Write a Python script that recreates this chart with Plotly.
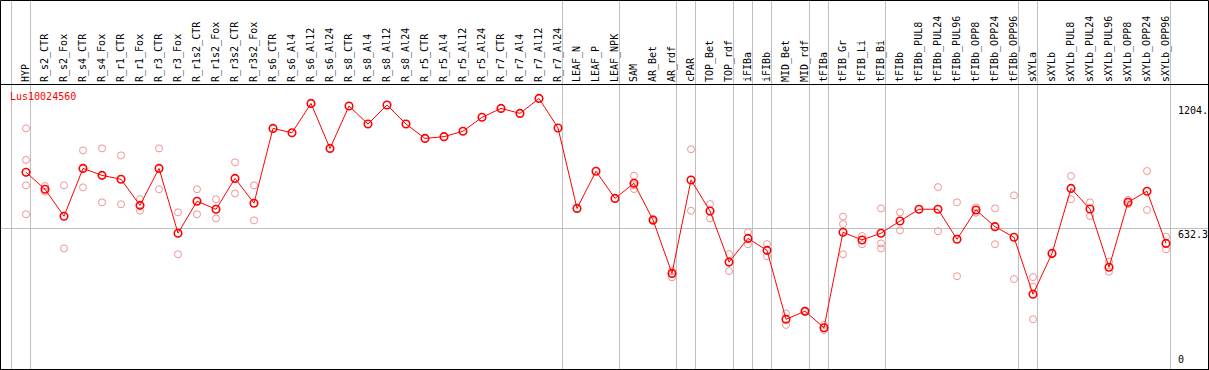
import plotly.graph_objects as go

title = "Lus10024560"

categories = [
    "HYP", "R_s2_CTR", "R_s2_Fox", "R_s4_CTR", "R_s4_Fox", "R_r1_CTR", "R_r1_Fox",
    "R_r3_CTR", "R_r3_Fox", "R_r1s2_CTR", "R_r1s2_Fox", "R_r3s2_CTR", "R_r3s2_Fox",
    "R_s6_CTR", "R_s6_Al4", "R_s6_Al12", "R_s6_Al24", "R_s8_CTR", "R_s8_Al4",
    "R_s8_Al12", "R_s8_Al24", "R_r5_CTR", "R_r5_Al4", "R_r5_Al12", "R_r5_Al24",
    "R_r7_CTR", "R_r7_Al4", "R_r7_Al12", "R_r7_Al24", "LEAF_N", "LEAF_P", "LEAF_NPK",
    "SAM", "AR_Bet", "AR_rdf", "cPAR", "TOP_Bet", "TOP_rdf", "iFIBa", "iFIBb",
    "MID_Bet", "MID_rdf", "tFIBa", "tFIB_Gr", "tFIB_Li", "tFIB_Bi", "tFIBb",
    "tFIBb_PUL8", "tFIBb_PUL24", "tFIBb_PUL96", "tFIBb_OPP8", "tFIBb_OPP24",
    "tFIBb_OPP96", "sXYLa", "sXYLb", "sXYLb_PUL8", "sXYLb_PUL24", "sXYLb_PUL96",
    "sXYLb_OPP8", "sXYLb_OPP24", "sXYLb_OPP96",
]

means = [
    890, 812, 688, 908, 876, 858, 738, 908, 610, 757, 720, 862, 748,
    1092, 1072, 1207, 1000, 1195, 1112, 1200, 1112, 1046, 1054, 1079, 1143,
    1184, 1161, 1230, 1094, 724, 895, 770,
    840, 671, 425, 855, 712, 477, 586, 531,
    214, 251, 175, 614, 579, 610, 666,
    720, 720, 582, 717, 640, 591, 329, 517,
    816, 721, 453, 752, 803, 563,
]

replicates = [
    [1092, 947, 830, 697], [827, 801], [830, 540], [991, 821], [1000, 752],
    [968, 743], [767, 713], [1000, 812], [706, 513], [812, 697], [766, 678],
    [936, 793], [830, 669],
    [], [], [], [], [], [], [], [], [], [], [], [], [], [], [], [],
    [], [], [],
    [874, 831, 813], [675, 666], [436, 407], [996, 713], [744, 678],
    [514, 436], [615, 559], [560, 504],
    [241, 188], [253, 248], [188, 165], [686, 652, 513], [597, 559],
    [724, 563, 540], [706, 623],
    [], [822, 619], [752, 412], [729, 704], [724, 559], [784, 399],
    [408, 364, 214], [],
    [873, 766], [752, 689], [479, 433], [763, 743], [896, 717], [594, 536],
]

# indices of the categories after which a group separator is drawn (-1 = before the first)
group_ends = [-1, 0, 28, 31, 34, 35, 37, 38, 39, 41, 42, 45, 52, 53, 60]

y_label_values = [0, 632.3, 1204]
y_label_texts = ["0", "632.3", "1204."]
grid_value = 632.3

FONT = "DejaVu Sans Mono"
RED = "#ff0000"
PINK = "#f09494"
GRID = "#c0c0c0"

W, H = 1209, 370
ML, MR, MT, MB = 1, 1, 85, 1
plot_h = H - MT - MB
plot_w = W - ML - MR
top_paper = (H - 0.5 - MB) / plot_h

xs = list(range(len(categories)))

rx, ry = [], []
for i, reps in enumerate(replicates):
    for v in reps:
        rx.append(i)
        ry.append(v)

fig = go.Figure()

fig.add_trace(go.Scatter(
    x=rx, y=ry, mode="markers",
    marker=dict(symbol="circle-open", size=7, color=PINK, line=dict(width=1, color=PINK)),
    hoverinfo="skip", showlegend=False, cliponaxis=False,
))

fig.add_trace(go.Scatter(
    x=xs, y=means, mode="lines+markers",
    line=dict(color=RED, width=1),
    marker=dict(symbol="circle-open", size=7.5, color=RED, line=dict(width=1.6, color=RED)),
    hoverinfo="skip", showlegend=False, cliponaxis=False,
))

shapes = []
for g in group_ends:
    shapes.append(dict(
        type="line", xref="x", yref="paper",
        x0=g + 0.237, x1=g + 0.237, y0=0, y1=top_paper,
        line=dict(color=GRID, width=1), layer="below",
    ))
# outer frame of the whole picture
shapes.append(dict(
    type="rect", xref="paper", yref="paper",
    x0=-0.5 / plot_w, x1=1 + 0.5 / plot_w, y0=-0.5 / plot_h, y1=top_paper,
    line=dict(color="black", width=1), layer="above",
))

annotations = [dict(
    text=title, xref="paper", yref="paper", x=8 / plot_w, y=1 - 5 / plot_h,
    xanchor="left", yanchor="top", showarrow=False,
    font=dict(family=FONT, size=10, color=RED), borderpad=0,
)]
for v, t in zip(y_label_values, y_label_texts):
    annotations.append(dict(
        text=t, xref="paper", yref="y", x=(1177 - ML) / plot_w, y=v,
        xanchor="left", yanchor="bottom" if v == 0 else "top", showarrow=False,
        font=dict(family=FONT, size=10, color="black"), borderpad=0,
    ))

x_left = (ML - 26) / 19
x_right = (W - MR - 26) / 19
y_bottom = (365.8 - (H - MB)) * 4.6
y_top = (365.8 - MT) * 4.6

fig.update_layout(
    width=W, height=H,
    margin=dict(l=ML, r=MR, t=MT, b=MB, pad=0, autoexpand=False),
    paper_bgcolor="white", plot_bgcolor="white",
    shapes=shapes, annotations=annotations,
    xaxis=dict(
        side="top", range=[x_left, x_right], tickmode="array",
        tickvals=xs, ticktext=categories, tickangle=-90,
        tickfont=dict(family=FONT, size=10, color="black"),
        ticks="", showgrid=False, zeroline=False, automargin=False,
        showline=True, linecolor="black", linewidth=1, mirror=True,
        fixedrange=True,
    ),
    yaxis=dict(
        range=[y_bottom, y_top], tickmode="array", tickvals=[grid_value],
        showticklabels=False, ticks="", showgrid=True, gridcolor=GRID, gridwidth=1,
        zeroline=False, showline=True, linecolor="black", linewidth=1, mirror=True,
        automargin=False, fixedrange=True,
    ),
)

fig.write_html(
    "out.html",
    config={"displayModeBar": False},
    post_script="document.body.style.margin='0px';document.body.style.overflow='hidden';",
)
